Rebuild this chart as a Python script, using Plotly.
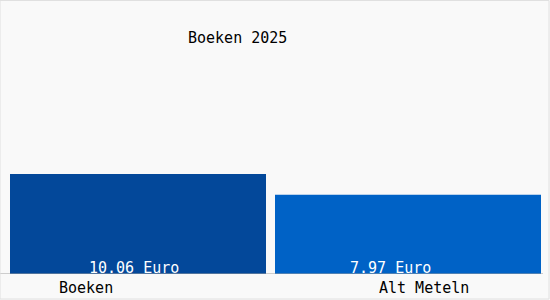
import plotly.graph_objects as go

categories = ["Boeken", "Alt Meteln"]
values = [10.06, 7.97]
value_labels = ["10.06 Euro", "7.97 Euro"]
bar_colors = ["#03489a", "#0062c6"]
title_text = "Boeken 2025"

FONT = "DejaVu Sans Mono"

fig = go.Figure(
    go.Bar(
        x=categories,
        y=values,
        width=[256 / 270, 266 / 270],
        marker=dict(color=bar_colors, line=dict(width=0)),
        hoverinfo="skip",
    )
)

# value labels inside bars, near bottom
label_shifts = [-4, -18]
for cat, lab, xs in zip(categories, value_labels, label_shifts):
    fig.add_annotation(
        x=cat, y=0, xref="x", yref="y", text=lab, showarrow=False,
        xanchor="center", yanchor="bottom", xshift=xs, yshift=-5,
        font=dict(family=FONT, size=15, color="white"),
    )

# category labels below axis
cat_shifts = [-52, 16]
for cat, xs in zip(categories, cat_shifts):
    fig.add_annotation(
        x=cat, y=0, xref="x", yref="paper", text=cat, showarrow=False,
        xanchor="center", yanchor="top", xshift=xs, yshift=-3,
        font=dict(family=FONT, size=15, color="black"),
    )

# title
fig.add_annotation(
    x=0.435, y=1, xref="paper", yref="paper", text=title_text, showarrow=False,
    xanchor="center", yanchor="middle", yshift=-14,
    font=dict(family=FONT, size=15, color="black"),
)

# baseline axis line
fig.add_shape(type="line", xref="paper", yref="y", x0=-0.006, x1=1.0, y0=0, y1=0,
              line=dict(color="#a0a0a0", width=1))
# outer border
fig.add_shape(type="rect", xref="paper", yref="paper",
              x0=-3 / 540, x1=1 + 6 / 540, y0=-25 / 250, y1=1 + 23.5 / 250,
              line=dict(color="#e0e0e0", width=1))

fig.update_layout(
    width=550, height=300,
    margin=dict(l=3, r=7, t=24, b=26),
    paper_bgcolor="#f9f9f9", plot_bgcolor="#f9f9f9",
    showlegend=False,
    xaxis=dict(range=[-0.5, 1.5], showticklabels=False, showgrid=False, zeroline=False,
               showline=False, ticks=""),
    yaxis=dict(range=[0, 25.15], showticklabels=False, showgrid=False, zeroline=False,
               showline=False, ticks=""),
)

fig.write_html("out.html", config={"displayModeBar": False})
